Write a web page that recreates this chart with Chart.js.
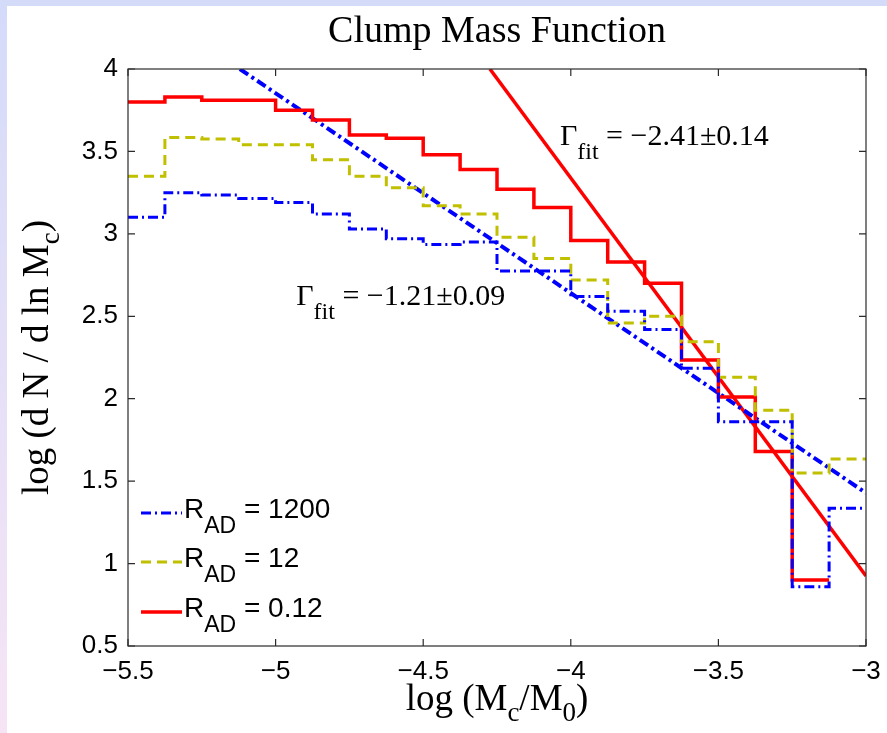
<!DOCTYPE html>
<html><head><meta charset="utf-8">
<script src="https://cdn.jsdelivr.net/npm/chart.js@4.4.0/dist/chart.umd.min.js"></script>
<style>
html,body{margin:0;padding:0;width:887px;height:733px;overflow:hidden;background:linear-gradient(to bottom,#d4dbf9,#f6e4f5);}
#wrap{position:absolute;left:7px;top:6px;width:880px;height:727px;background:#fff;}
canvas{display:block;}
</style></head><body><div id="wrap"><canvas id="c" width="880" height="727"></canvas></div>
<script>
// ---- data ----
const binEdges = [-5.5, -5.375, -5.25, -5.125, -5.0, -4.875, -4.75, -4.625, -4.5, -4.375, -4.25,
                  -4.125, -4.0, -3.875, -3.75, -3.625, -3.5, -3.375, -3.25, -3.125, -3.0];
const histRAD1200 = [3.10, 3.25, 3.235, 3.215, 3.19, 3.12, 3.03, 2.97, 2.935, 2.95,
                     2.775, 2.775, 2.62, 2.53, 2.42, 2.185, 1.86, 1.86, 0.86, 1.335];
const histRAD12   = [3.35, 3.585, 3.575, 3.54, 3.54, 3.45, 3.35, 3.28, 3.17, 3.12,
                     2.98, 2.85, 2.72, 2.46, 2.50, 2.345, 2.13, 1.93, 1.55, 1.635];
const histRAD012  = [3.80, 3.83, 3.81, 3.81, 3.75, 3.69, 3.60, 3.58, 3.48, 3.39,
                     3.27, 3.16, 2.96, 2.83, 2.70, 2.235, 2.01, 1.68, 0.90];
const fitRAD1200X = [-5.121, -3.0];
const fitRAD1200Y = [4.0, 1.428];
const fitRAD012X  = [-4.274, -3.0];
const fitRAD012Y  = [4.0, 0.925];
const seriesRAD = ['1200', '12', '0.12'];
const fitLabels = ['\u22121.21\u00B10.09', '\u22122.41\u00B10.14'];
const xTickValues = [-5.5, -5, -4.5, -4, -3.5, -3];
const yTickValues = [0.5, 1, 1.5, 2, 2.5, 3, 3.5, 4];
const titleText = 'Clump Mass Function';

// ---- helpers ----
function stepPoints(edges, vals) {
  const pts = vals.map((v, i) => ({x: edges[i], y: v}));
  pts.push({x: edges[vals.length], y: vals[vals.length - 1]});
  return pts;
}
function pairPoints(xs, ys) { return xs.map((x, i) => ({x: x, y: ys[i]})); }
function fmt(v) { return String(v).replace('-', '\u2212'); }

const SERIF = '"Liberation Serif", "Times New Roman", serif';
const SANS = '"Liberation Sans", Arial, sans-serif';
const BLUE = '#0000ff', YEL = '#c0bf00', RED = '#ff0000';
const DASHDOT = [10, 4, 2, 4], DASH = [10, 6], FITDASHDOT = [10, 4, 3, 4];

function drawRich(ctx, parts, x, y, align) {
  let w = 0;
  parts.forEach(p => { ctx.font = p.font; w += ctx.measureText(p.t).width; });
  let cx = align === 'center' ? x - w / 2 : x;
  ctx.textAlign = 'left'; ctx.textBaseline = 'alphabetic';
  parts.forEach(p => { ctx.font = p.font; ctx.fillText(p.t, cx, y + (p.dy || 0)); cx += ctx.measureText(p.t).width; });
}

const decor = {
  id: 'decor',
  afterDraw(chart) {
    const ctx = chart.ctx, a = chart.chartArea, xs = chart.scales.x, ys = chart.scales.y;
    ctx.save();
    // axes box with inward ticks
    ctx.setLineDash([]);
    ctx.strokeStyle = '#2b2b2b'; ctx.lineWidth = 1.2;
    ctx.strokeRect(a.left, a.top, a.right - a.left, a.bottom - a.top);
    const tl = 7;
    ctx.beginPath();
    xTickValues.forEach(v => { const px = xs.getPixelForValue(v);
      ctx.moveTo(px, a.bottom); ctx.lineTo(px, a.bottom - tl);
      ctx.moveTo(px, a.top); ctx.lineTo(px, a.top + tl); });
    yTickValues.forEach(v => { const py = ys.getPixelForValue(v);
      ctx.moveTo(a.left, py); ctx.lineTo(a.left + tl, py);
      ctx.moveTo(a.right, py); ctx.lineTo(a.right - tl, py); });
    ctx.stroke();

    ctx.fillStyle = '#000';
    // fit annotations
    const ann = [{x: -4.93, y: 2.568}, {x: -4.037, y: 3.539}];
    ann.forEach((p, i) => {
      drawRich(ctx, [
        {t: '\u0393', font: '30px ' + SERIF},
        {t: 'fit', font: '24px ' + SERIF, dy: 14},
        {t: ' = ' + fitLabels[i], font: '30px ' + SERIF}
      ], xs.getPixelForValue(p.x), ys.getPixelForValue(p.y), 'left');
    });

    // legend
    const ds = chart.data.datasets;
    const rows = [a.bottom - 128, a.bottom - 79, a.bottom - 29];
    [0, 1, 2].forEach(i => {
      const d = ds[i];
      const by = rows[i];
      ctx.beginPath();
      ctx.strokeStyle = d.borderColor; ctx.lineWidth = d.borderWidth;
      ctx.setLineDash(d.borderDash || []);
      ctx.moveTo(a.left + 13, by - 5); ctx.lineTo(a.left + 54, by - 5);
      ctx.stroke();
      ctx.setLineDash([]);
      drawRich(ctx, [
        {t: 'R', font: '28px ' + SANS},
        {t: 'AD', font: '23px ' + SANS, dy: 15},
        {t: ' = ' + seriesRAD[i], font: '28px ' + SANS}
      ], a.left + 56, by, 'left');
    });

    // axis titles
    const cx = (a.left + a.right) / 2, cy = (a.top + a.bottom) / 2;
    drawRich(ctx, [
      {t: 'log (M', font: '37px ' + SERIF},
      {t: 'c', font: '27px ' + SERIF, dy: 11},
      {t: '/M', font: '37px ' + SERIF},
      {t: '0', font: '27px ' + SERIF, dy: 11},
      {t: ')', font: '37px ' + SERIF}
    ], cx, a.bottom + 64, 'center');
    ctx.save();
    ctx.translate(a.left - 80, cy);
    ctx.rotate(-Math.PI / 2);
    drawRich(ctx, [
      {t: 'log (d N / d ln M', font: '37px ' + SERIF},
      {t: 'c', font: '27px ' + SERIF, dy: 11},
      {t: ')', font: '37px ' + SERIF}
    ], 0, 0, 'center');
    ctx.restore();
    ctx.restore();
  }
};

new Chart(document.getElementById('c'), {
  type: 'line',
  data: {
    datasets: [
      {label: 'R_AD = ' + seriesRAD[0], data: stepPoints(binEdges, histRAD1200), stepped: 'before',
       borderColor: BLUE, borderWidth: 3, borderDash: DASHDOT, fill: false},
      {label: 'R_AD = ' + seriesRAD[1], data: stepPoints(binEdges, histRAD12), stepped: 'before',
       borderColor: YEL, borderWidth: 3, borderDash: DASH, fill: false},
      {label: 'R_AD = ' + seriesRAD[2], data: stepPoints(binEdges, histRAD012), stepped: 'before',
       borderColor: RED, borderWidth: 3.5, fill: false},
      {label: 'fit 1200', data: pairPoints(fitRAD1200X, fitRAD1200Y),
       borderColor: BLUE, borderWidth: 4, borderDash: FITDASHDOT, fill: false},
      {label: 'fit 0.12', data: pairPoints(fitRAD012X, fitRAD012Y),
       borderColor: RED, borderWidth: 3.5, fill: false}
    ]
  },
  options: {
    responsive: false, animation: false, devicePixelRatio: 1,
    layout: {padding: {left: 0, right: 21, top: 0, bottom: 0}},
    elements: {point: {radius: 0}, line: {tension: 0, borderCapStyle: 'butt', borderJoinStyle: 'miter'}},
    plugins: {
      legend: {display: false}, tooltip: {enabled: false},
      title: {display: true, fullSize: false, text: titleText, color: '#000',
              font: {family: SERIF, size: 38, weight: 'normal'},
              padding: {top: 3, bottom: 14.4}}
    },
    scales: {
      x: {type: 'linear', min: -5.5, max: -3,
          grid: {display: false, drawTicks: false}, border: {display: false},
          afterBuildTicks: s => { s.ticks = xTickValues.map(v => ({value: v})); },
          afterFit: s => { s.height = 87; s.paddingRight = 0; s.paddingLeft = 0; },
          ticks: {padding: 10, color: '#000', font: {family: SANS, size: 26}, maxRotation: 0, autoSkip: false,
                  callback: v => fmt(v)}},
      y: {type: 'linear', min: 0.5, max: 4,
          grid: {display: false, drawTicks: false}, border: {display: false},
          afterBuildTicks: s => { s.ticks = yTickValues.map(v => ({value: v})); },
          afterFit: s => { s.width = 121; },
          ticks: {padding: 10, color: '#000', font: {family: SANS, size: 26}, autoSkip: false,
                  callback: v => fmt(v)}}
    }
  },
  plugins: [decor]
});
</script></body></html>
